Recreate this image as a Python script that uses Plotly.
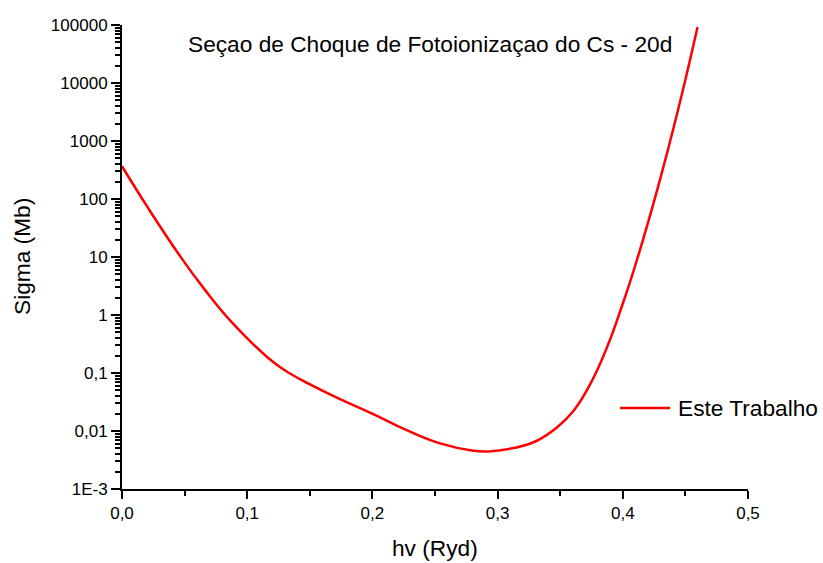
import plotly.graph_objects as go

# Data
hv = [0.000, 0.0208, 0.0475, 0.0661, 0.0887, 0.1154, 0.1287, 0.1421, 0.1687,
      0.2007, 0.2274, 0.2540, 0.2806, 0.2926, 0.3127, 0.3314, 0.3474, 0.3607,
      0.3741, 0.3874, 0.3981, 0.4087, 0.4275, 0.4448, 0.4597]
sigma = [367, 70.2, 9.57, 2.74, 0.708, 0.193, 0.116, 0.0785, 0.0404,
         0.0195, 0.01033, 0.00611, 0.00457, 0.00445, 0.00508, 0.00679, 0.01153, 0.0224,
         0.0649, 0.278, 1.197, 5.85, 144, 3926, 92260]

y_tickvals = [1e-3, 1e-2, 1e-1, 1, 10, 100, 1000, 10000, 100000]
y_ticktext = ["1E-3", "0,01", "0,1", "1", "10", "100", "1000", "10000", "100000"]
x_tickvals = [0.0, 0.1, 0.2, 0.3, 0.4, 0.5]
x_ticktext = ["0,0", "0,1", "0,2", "0,3", "0,4", "0,5"]
series_name = "Este Trabalho"
line_color = "#ff0000"

FONT = "Liberation Sans, Arial, sans-serif"
BIG = 22.7

fig = go.Figure()
fig.add_trace(go.Scatter(x=hv, y=sigma, mode="lines", name=series_name, showlegend=False,
                         line=dict(color=line_color, width=2.5, shape="spline", smoothing=1.3)))

fig.update_layout(
    width=823, height=563,
    margin=dict(l=122, r=75, t=25, b=74),
    paper_bgcolor="white", plot_bgcolor="white",
    font=dict(family=FONT, color="black"),
    showlegend=False,
    xaxis=dict(range=[0, 0.5], tickvals=x_tickvals, ticktext=x_ticktext,
               showgrid=False, zeroline=False, showline=True, linecolor="black", linewidth=2,
               ticks="outside", ticklen=8, tickwidth=2, tickcolor="black",
               tickfont=dict(size=17, family=FONT),
               minor=dict(ticks="outside", ticklen=5, tickwidth=2, tickcolor="black",
                          dtick=0.05, tick0=0, showgrid=False)),
    yaxis=dict(type="log", range=[-3, 5], tickvals=y_tickvals, ticktext=y_ticktext,
               showgrid=False, zeroline=False, showline=True, linecolor="black", linewidth=2,
               ticks="outside", ticklen=9, tickwidth=2, tickcolor="black",
               tickfont=dict(size=17, family=FONT),
               minor=dict(ticks="outside", ticklen=5, tickwidth=1.5, tickcolor="black",
                          dtick="D1", showgrid=False)),
)

# Legend key (line sample + label)
ly = (489 - 408) / 464
fig.add_shape(type="line", xref="paper", yref="paper",
              x0=(620 - 122) / 626, x1=(670 - 122) / 626, y0=ly, y1=ly,
              line=dict(color=line_color, width=2.5))
fig.add_annotation(text=series_name, xref="paper", yref="paper",
                   x=(676 - 122) / 626, y=ly, xanchor="left", yanchor="middle",
                   showarrow=False, font=dict(size=BIG, family=FONT))

fig.add_annotation(text="Seçao de Choque de Fotoionizaçao do Cs - 20d",
                   xref="paper", yref="paper", x=(429.5 - 122) / 626, y=(489 - 44) / 464,
                   xanchor="center", yanchor="middle", showarrow=False,
                   font=dict(size=BIG, family=FONT))
fig.add_annotation(text="hv (Ryd)", xref="paper", yref="paper",
                   x=0.5, y=(489 - 548) / 464, xanchor="center", yanchor="middle",
                   showarrow=False, font=dict(size=BIG, family=FONT))
fig.add_annotation(text="Sigma (Mb)", xref="paper", yref="paper",
                   x=(22 - 122) / 626, y=0.5, xanchor="center", yanchor="middle",
                   textangle=-90, showarrow=False, font=dict(size=BIG, family=FONT))

fig.write_html("out.html")
